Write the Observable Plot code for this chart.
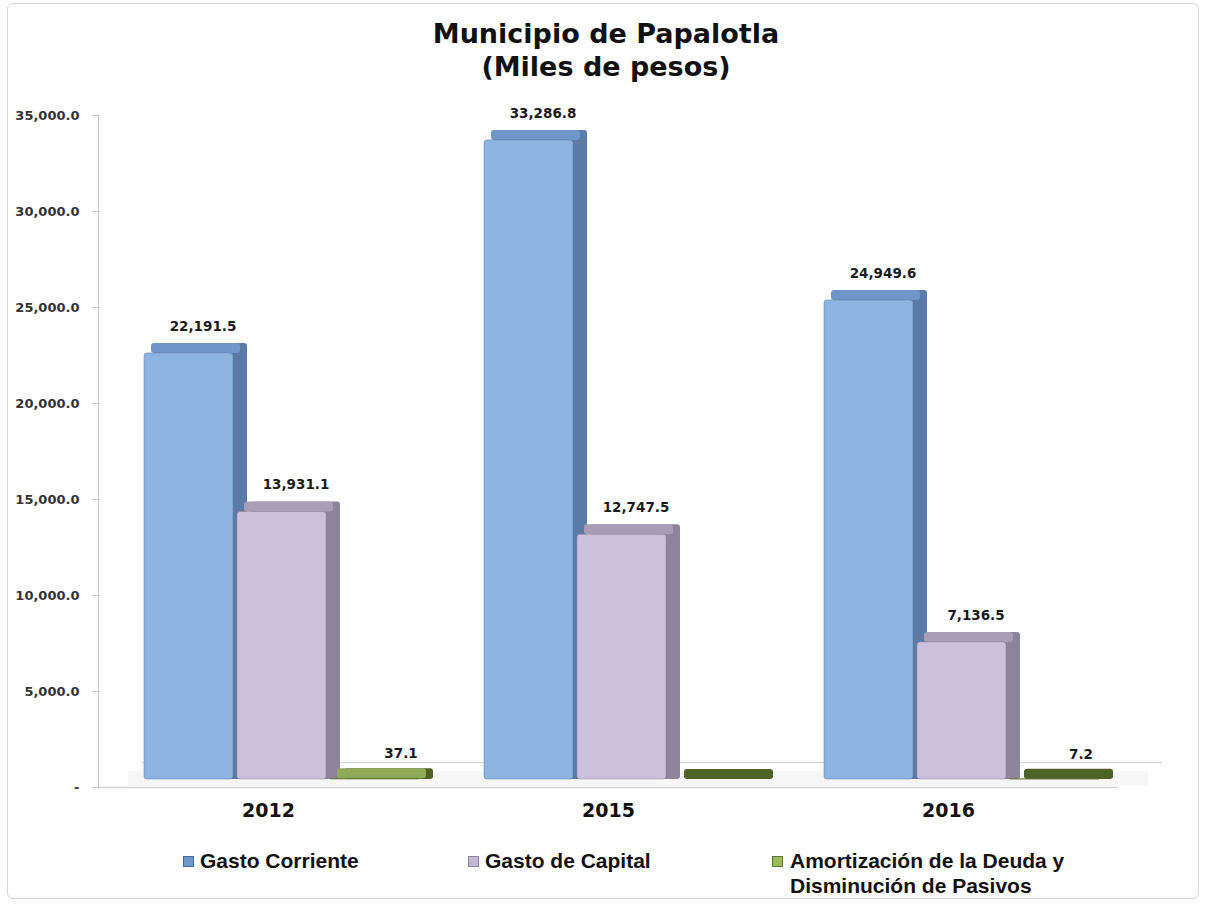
<!DOCTYPE html>
<html>
<head>
<meta charset="utf-8">
<script src="https://cdn.jsdelivr.net/npm/d3@7"></script>
<script src="https://cdn.jsdelivr.net/npm/@observablehq/plot@0.6"></script>
<style>
  html, body { margin: 0; padding: 0; background: #fff; }
  #page { position: relative; width: 1206px; height: 904px; overflow: hidden; background: #fff; }
  #border { position: absolute; left: 7px; top: 3px; width: 1192px; height: 896px; border: 1px solid #d6d6d6; border-radius: 6px; box-sizing: border-box; }
  #title { position: absolute; left: 0; top: 17px; width: 1212px; text-align: center; font-family: "DejaVu Sans", sans-serif; font-weight: bold; font-size: 27px; line-height: 33px; color: #111; }
  #chart { position: absolute; left: 0; top: 95px; }
  .leg { position: absolute; font-family: "Liberation Sans", Arial, sans-serif; font-weight: bold; font-size: 21px; line-height: 25px; color: #111; white-space: nowrap; }
  .sw { position: absolute; width: 9px; height: 9px; border: 1px solid; }
</style>
</head>
<body>
<div id="page">
  <div id="border"></div>
  <div id="title">Municipio de Papalotla<br>(Miles de pesos)</div>
  <div id="chart"></div>
  <div id="legend"></div>
</div>
<script>
// ---- data ----
const years = ["2012", "2015", "2016"];
const series = ["Gasto Corriente", "Gasto de Capital", "Amortización de la Deuda y Disminución de Pasivos"];
const gastoCorriente = [22191.5, 33286.8, 24949.6];
const gastoCapital = [13931.1, 12747.5, 7136.5];
const amortizacion = [37.1, 0, 7.2];
const yTicks = [0, 5000, 10000, 15000, 20000, 25000, 30000, 35000];
const legendLines = [["Gasto Corriente"], ["Gasto de Capital"], ["Amortización de la Deuda y", "Disminución de Pasivos"]];

// ---- styles ----
const frontColors = ["#8db3e2", "#ccc0da", "#8fab58"];
const sideColors = ["#5b7ba6", "#8e8499", "#4f6228"];
const topColors = ["#7095c8", "#a99db6", "#8fab58"];
const swatchFill = ["#6f98cf", "#c4bad3", "#9bbb59"];
const swatchBorder = ["#3f6aa3", "#8e8499", "#5f7a30"];

const valuesBySeries = [gastoCorriente, gastoCapital, amortizacion];
const data = [];
years.forEach((yr, i) => series.forEach((s, j) => data.push({year: yr, series: s, si: j, value: valuesBySeries[j][i]})));

const fmt = d3.format(",.1f");
const common = {fx: "year", x: "series"};

const plot = Plot.plot({
  width: 1206,
  height: 735,
  marginTop: 20,
  marginBottom: 43,
  marginLeft: 98,
  marginRight: 88,
  style: {background: "transparent", overflow: "visible"},
  fx: {domain: years, paddingInner: 0, paddingOuter: 0, label: null},
  x: {domain: series, paddingInner: 0.04, paddingOuter: 0, insetLeft: 45, insetRight: 18, axis: null},
  y: {domain: [0, 35000], label: null},
  marks: [
    // floor
    Plot.ruleY([0], {dx: 30, dy: -9, stroke: "#f6f6f6", strokeWidth: 14}),
    Plot.ruleY([0], {dx: 44, dy: -25, stroke: "#cfcfcf"}),
    Plot.ruleY([0], {stroke: "#d4d4d4", strokeWidth: 1.5}),
    // axis line
    Plot.frame({anchor: "left", facetAnchor: "left", stroke: "#c4c4c4"}),
    Plot.axisY({ticks: yTicks, tickFormat: d => d === 0 ? "-" : fmt(d), tickSize: 6, tickPadding: 13,
      fontSize: 13, fontWeight: "bold", fontFamily: "DejaVu Sans", stroke: "#c4c4c4", fill: "#333", label: null}),
    Plot.axisFx({anchor: "bottom", tickSize: 0, tickPadding: 16, fontSize: 19, fontWeight: "bold",
      fontFamily: "DejaVu Sans", fill: "#111", label: null}),
    // 3D depth (side) of bars
    Plot.barY(data, {...common, y: "value", fill: d => sideColors[d.si], dx: 14, dy: -8, insetTop: -10, rx: 3}),
    // 3D top face
    Plot.barY(data.filter(d => d.value > 10), {...common, y1: "value", y2: "value", fill: d => topColors[d.si], dx: 7, dy: -8, insetTop: -10, rx: 3}),
    // front face
    Plot.barY(data, {...common, y: "value", fill: d => frontColors[d.si], dy: -8, rx: 3, stroke: d => sideColors[d.si], strokeOpacity: 0.5}),
    // value labels
    Plot.text(data.filter(d => d.value > 0 && d.si < 2), {...common, y: "value", text: d => fmt(d.value), dx: 14, dy: -35,
      fontSize: 13.5, fontWeight: "bold", fontFamily: "DejaVu Sans", fill: "#1a1a1a"}),
    Plot.text(data.filter(d => d.value > 0 && d.si === 2), {...common, y: "value", text: d => fmt(d.value), dx: 26, dy: -33,
      fontSize: 13.5, fontWeight: "bold", fontFamily: "DejaVu Sans", fill: "#1a1a1a"})
  ]
});
document.getElementById("chart").appendChild(plot);

// ---- legend ----
const legend = document.getElementById("legend");
const legX = [183, 468, 772];
const textX = [200, 485, 790];
legendLines.forEach((lines, j) => {
  const sw = document.createElement("div");
  sw.className = "sw";
  sw.style.left = legX[j] + "px";
  sw.style.top = "856px";
  sw.style.background = swatchFill[j];
  sw.style.borderColor = swatchBorder[j];
  legend.appendChild(sw);
  const t = document.createElement("div");
  t.className = "leg";
  t.style.left = textX[j] + "px";
  t.style.top = "848px";
  t.innerHTML = lines.join("<br>");
  legend.appendChild(t);
});
</script>
</body>
</html>
